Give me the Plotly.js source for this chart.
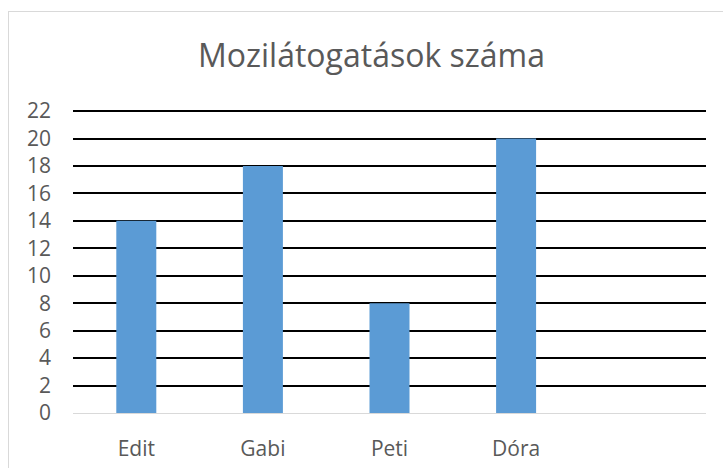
<!DOCTYPE html>
<html>
<head>
<meta charset="utf-8">
<script src="https://cdn.plot.ly/plotly-3.0.1.min.js"></script>
<style>
  html, body { margin: 0; padding: 0; background: #fff; overflow: hidden; }
  #chart { width: 723px; height: 468px; position: absolute; left: 0; top: 0; }
  #frame { position: absolute; left: 8px; top: 11px; width: 740px; height: 480px;
           border: 1px solid #d9d9d9; pointer-events: none; box-sizing: border-box; }
</style>
</head>
<body>
<div id="chart"></div>
<div id="frame"></div>
<script>
const categories = ['Edit', 'Gabi', 'Peti', 'Dóra'];
const visits = [14, 18, 8, 20];
const yTicks = [0, 2, 4, 6, 8, 10, 12, 14, 16, 18, 20, 22];
const titleText = 'Mozilátogatások száma';

const font = '"Open Sans", "Noto Sans", sans-serif';

Plotly.newPlot('chart', [{
  type: 'bar',
  x: categories,
  y: visits,
  marker: { color: '#5B9BD5' },
  hoverinfo: 'skip'
}], {
  width: 723,
  height: 468,
  margin: { l: 73, r: 17, t: 109, b: 55 },
  paper_bgcolor: '#ffffff',
  plot_bgcolor: '#ffffff',
  bargap: 0.684,
  showlegend: false,
  title: {
    text: titleText,
    font: { family: font, size: 32, color: '#595959' },
    x: 371.5 / 723, xref: 'container', xanchor: 'center',
    y: 1 - 56 / 468, yref: 'container', yanchor: 'middle'
  },
  xaxis: {
    type: 'category',
    range: [-0.5, 4.5],
    showgrid: false,
    showline: true,
    linecolor: '#d9d9d9',
    linewidth: 1,
    ticks: '',
    ticklabelstandoff: 17,
    tickfont: { family: font, size: 21, color: '#595959' },
    fixedrange: true
  },
  yaxis: {
    range: [0, 22.15],
    tickvals: yTicks,
    ticktext: yTicks.map(String),
    showgrid: true,
    gridcolor: '#000000',
    gridwidth: 2,
    zeroline: false,
    showline: false,
    ticks: '',
    ticklabelstandoff: 21,
    tickfont: { family: font, size: 21, color: '#595959' },
    fixedrange: true
  }
}, { staticPlot: true });
</script>
</body>
</html>
